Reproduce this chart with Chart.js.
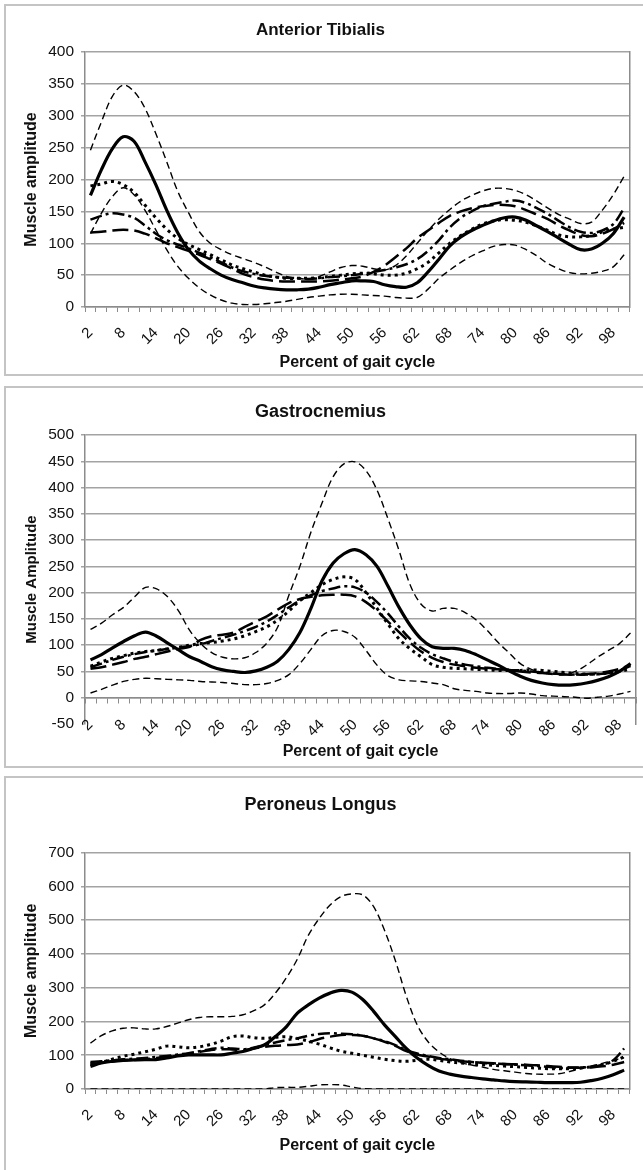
<!DOCTYPE html>
<html>
<head>
<meta charset="utf-8">
<script src="https://cdn.jsdelivr.net/npm/chart.js@4.4.1/dist/chart.umd.min.js"></script>
<style>
  html, body { margin:0; padding:0; background:#fff; }
  body { width:643px; height:1170px; overflow:hidden; position:relative; }
  .box { position:absolute; border:2px solid #c4c4c4; box-sizing:border-box; background:#fff; }
  canvas { position:absolute; }
</style>
</head>
<body>
<div class="box" style="left:4px;top:4px;width:660px;height:372px;"></div>
<div class="box" style="left:4px;top:386px;width:660px;height:382px;"></div>
<div class="box" style="left:4px;top:776px;width:660px;height:420px;"></div>
<canvas id="c1" width="644" height="370" style="left:5px;top:5px;"></canvas>
<canvas id="c2" width="644" height="380" style="left:5px;top:387px;"></canvas>
<canvas id="c3" width="644" height="390" style="left:5px;top:777px;"></canvas>
<script>
// ---------- categories & tick labels ----------
const gaitPercent = [2,4,6,8,10,12,14,16,18,20,22,24,26,28,30,32,34,36,38,40,42,44,46,48,50,52,54,56,58,60,62,64,66,68,70,72,74,76,78,80,82,84,86,88,90,92,94,96,98,100];
const labeledPercents = [2,8,14,20,26,32,38,44,50,56,62,68,74,80,86,92,98];

// ---------- Anterior Tibialis ----------
const atRange = [0, 400, 50];
const atMean     = [175,215,248,267,260,228,192,152,117,90,72,60,50,43,38,33,30,28,27,27,28,31,35,38,41,41,40,35,32,31,38,55,75,96,110,120,128,135,140,141,136,127,118,108,98,90,91,100,115,141];
const atUpper    = [246,290,330,348,338,312,272,228,182,148,118,100,90,82,76,70,63,55,48,45,44,48,55,62,65,64,60,58,65,80,100,120,138,153,166,175,182,186,186,183,176,166,155,145,138,131,133,152,176,205];
const atLower    = [115,147,173,187,176,152,121,90,64,45,30,19,11,6,4,4,5,7,9,12,15,17,19,20,20,19,18,17,15,14,15,28,45,58,70,80,88,95,98,97,90,80,68,60,54,52,53,56,63,82];
const atDotted   = [190,193,197,192,180,160,140,122,108,98,90,82,74,66,60,55,50,47,45,45,45,46,48,50,52,53,52,50,50,53,60,70,85,100,112,122,130,135,137,136,133,127,120,113,110,110,112,118,122,125];
const atDashDot  = [137,143,147,145,140,128,115,105,98,92,85,78,70,62,56,52,49,47,46,45,44,45,47,48,50,52,55,58,62,67,75,88,105,125,140,150,158,162,165,167,163,155,146,135,125,118,116,120,130,155];
const atLongDash = [117,118,120,121,120,115,108,100,94,88,82,75,68,60,52,47,43,41,40,40,40,40,41,43,45,48,55,65,78,92,108,120,132,143,150,155,158,160,160,158,152,145,138,128,120,113,111,115,122,132];

// ---------- Gastrocnemius ----------
const gaRange = [-50, 500, 50];
const gaMean     = [72,82,95,107,118,125,117,104,91,78,69,59,53,50,48,51,58,70,92,124,170,222,256,274,282,272,250,212,172,138,112,97,94,94,90,82,72,62,51,41,33,28,25,24,25,28,33,40,50,65];
const gaUpper    = [130,142,158,172,192,210,207,192,165,128,103,86,77,74,76,86,104,135,195,250,315,370,420,445,449,432,395,340,280,215,178,165,170,170,162,148,128,105,85,65,54,48,45,44,50,62,77,90,103,123];
const gaLower    = [9,16,24,31,35,37,36,35,34,33,31,30,29,27,25,25,27,33,44,65,92,118,128,126,115,90,62,42,34,32,31,28,25,17,14,12,9,8,8,9,7,4,3,2,1,-1,1,3,7,12];
const gaDotted   = [60,68,75,80,85,88,90,93,96,100,103,105,108,112,118,126,135,148,165,185,200,215,225,230,225,200,170,140,112,93,78,63,58,56,55,54,53,52,52,52,53,52,50,48,46,45,45,47,50,55];
const gaDashDot  = [58,65,72,78,83,87,90,93,96,98,102,108,114,120,127,135,145,158,172,185,195,203,208,212,210,200,182,160,135,112,95,83,75,68,63,60,57,55,53,52,50,48,46,45,44,44,45,47,52,60];
const gaLongDash = [55,58,63,68,74,78,83,88,93,97,110,117,120,124,135,145,155,168,180,188,192,195,196,196,193,182,165,145,125,105,88,76,68,63,60,57,55,54,53,50,48,47,45,44,44,45,47,50,55,62];

// ---------- Peroneus Longus ----------
const plRange = [0, 700, 100];
const plMean     = [67,77,82,85,86,87,87,92,98,101,101,101,101,106,111,121,131,156,185,225,249,269,284,292,287,265,230,190,155,120,92,70,53,44,38,34,30,27,24,22,21,20,19,19,19,20,25,32,42,56];
const plUpper    = [136,158,172,180,181,178,178,185,195,205,212,214,214,215,220,232,250,285,330,385,455,505,545,570,578,575,540,470,380,275,190,140,110,90,78,71,65,58,54,50,46,44,44,45,52,60,68,76,85,93];
const plLower    = [0,0,0,0,0,0,0,0,0,0,0,0,0,0,0,0,0,4,5,5,8,12,13,12,6,1,0,0,0,0,0,0,0,0,0,0,0,0,0,0,0,0,0,0,0,0,0,0,0,0];
const plDotted   = [75,80,88,97,103,110,118,127,125,122,125,132,142,155,157,152,150,153,155,150,142,133,122,112,106,100,94,88,84,82,85,88,85,80,77,74,72,70,68,66,64,62,60,60,60,62,66,72,82,95];
const plDashDot  = [80,82,85,88,90,92,95,98,102,106,112,118,122,120,118,122,130,138,145,150,158,163,165,164,162,158,150,142,130,115,105,98,92,88,84,80,77,75,74,72,70,68,66,62,63,64,66,72,85,120];
const plLongDash = [72,78,82,85,86,88,92,95,100,104,110,115,118,117,115,120,125,128,130,132,138,148,155,160,160,158,150,140,128,112,102,96,90,86,82,80,78,76,74,73,72,70,68,66,64,63,64,67,72,80];

// ---------- styles ----------
const FONT = "'Liberation Sans', Arial, sans-serif";
const GRID_GRAY = '#a3a3a3';
const AXIS_GRAY = '#8c8c8c';
const TEXT = '#111';
const lineStyles = {
  upper:    {borderWidth: 1.4, borderDash: [7, 4]},
  lower:    {borderWidth: 1.4, borderDash: [7, 4]},
  dotted:   {borderWidth: 3,   borderDash: [3, 4]},
  dashDot:  {borderWidth: 2.5, borderDash: [12, 4, 3, 4]},
  longDash: {borderWidth: 2.5, borderDash: [16, 6]},
  mean:     {borderWidth: 3.2, borderDash: []}
};

function ds(data, style) {
  return Object.assign({
    data: data, borderColor: '#000', backgroundColor: '#000',
    pointRadius: 0, fill: false, tension: 0.35, borderCapStyle: 'butt', borderJoinStyle: 'round'
  }, lineStyles[style]);
}

function makeChart(id, p) {
  const [ymin, ymax, ystep] = p.range;
  const lowLabels = ymin < 0;   // value axis goes below zero: category axis crosses at 0, labels stay low
  const xTicks = {
    autoSkip: false, maxRotation: 45, minRotation: 45, padding: p.xTickPad,
    font: { family: FONT, size: 15 }, color: TEXT,
    callback: function (v, i) { const lab = gaitPercent[i]; return labeledPercents.includes(lab) ? String(lab) : ''; }
  };
  const xTitle = { display: true, text: 'Percent of gait cycle', color: TEXT,
                   font: { family: FONT, size: 16, weight: 'bold' },
                   padding: { top: p.xTitlePadTop || 0, bottom: p.xTitlePad } };
  const scales = {
    y: {
      min: ymin, max: ymax,
      ticks: { stepSize: ystep, padding: 7, font: { family: FONT, size: 15.5 }, color: TEXT },
      grid: { color: function (c) { return (c.tick && c.tick.value < 0) ? 'rgba(0,0,0,0)' : GRID_GRAY; },
              lineWidth: 1.5, tickLength: 4, drawTicks: true },
      border: { color: AXIS_GRAY, width: 1.5 },
      title: { display: true, text: p.yTitle, color: TEXT,
               font: { family: FONT, size: p.yTitleSize, weight: 'bold' }, padding: { top: p.yTitlePad, bottom: 0 } },
      afterFit: function (s) { s.width = 80; }
    },
    yRight: {
      axis: 'y', position: 'right', min: ymin, max: ymax,
      grid: { drawOnChartArea: false, drawTicks: false },
      border: { color: AXIS_GRAY, width: 1.5 },
      ticks: { display: false },
      afterFit: function (s) { s.width = 0; }
    }
  };
  if (!lowLabels) {
    scales.x = {
      type: 'category', offset: true,
      grid: { drawOnChartArea: false, drawTicks: true, tickLength: 5, offset: true, color: AXIS_GRAY, lineWidth: 1 },
      border: { color: AXIS_GRAY, width: 1.5 },
      ticks: xTicks, title: xTitle,
      afterFit: function (s) { s.height = p.xAxisH; }
    };
  } else {
    scales.x = {
      axis: 'x', type: 'category', offset: true, position: { y: ymin },
      grid: { display: false, drawTicks: false },
      border: { display: false },
      ticks: xTicks, title: xTitle
    };
    scales.xZero = {
      axis: 'x', type: 'category', position: { y: 0 }, offset: true, labels: gaitPercent,
      grid: { drawOnChartArea: false, drawTicks: true, tickLength: 5, offset: true, color: AXIS_GRAY, lineWidth: 1 },
      border: { color: AXIS_GRAY, width: 1.5 },
      ticks: { display: false }
    };
  }
  return new Chart(document.getElementById(id), {
    type: 'line',
    data: {
      labels: gaitPercent,
      datasets: [
        ds(p.series.upper, 'upper'), ds(p.series.lower, 'lower'),
        ds(p.series.dotted, 'dotted'), ds(p.series.dashDot, 'dashDot'),
        ds(p.series.longDash, 'longDash'), ds(p.series.mean, 'mean')
      ]
    },
    options: {
      responsive: false, animation: false, devicePixelRatio: 1,
      layout: { padding: { left: 0, right: 13, top: 0, bottom: lowLabels ? p.xAxisH : 0 } },
      plugins: {
        legend: { display: false }, tooltip: { enabled: false },
        title: { display: true, text: p.title, color: TEXT,
                 font: { family: FONT, size: p.titleSize, weight: 'bold' },
                 padding: { top: p.titleTop, bottom: p.titleBottom } }
      },
      scales: scales
    }
  });
}

makeChart('c1', {
  title: 'Anterior Tibialis', titleSize: 17, titleTop: 14.8, titleBottom: 11.8,
  yTitle: 'Muscle amplitude', yTitleSize: 16, yTitlePad: 17.4, range: atRange,
  xAxisH: 68, xTickPad: 12, xTitlePad: 2.4,
  series: { mean: atMean, upper: atUpper, lower: atLower, dotted: atDotted, dashDot: atDashDot, longDash: atLongDash }
});
makeChart('c2', {
  title: 'Gastrocnemius', titleSize: 18, titleTop: 13.9, titleBottom: 12.5,
  yTitle: 'Muscle Amplitude', yTitleSize: 15, yTitlePad: 18, range: gaRange,
  xAxisH: 43, xTickPad: -8, xTitlePadTop: 9, xTitlePad: 0,
  series: { mean: gaMean, upper: gaUpper, lower: gaLower, dotted: gaDotted, dashDot: gaDashDot, longDash: gaLongDash }
});
makeChart('c3', {
  title: 'Peroneus Longus', titleSize: 18, titleTop: 16.9, titleBottom: 37.2,
  yTitle: 'Muscle amplitude', yTitleSize: 16, yTitlePad: 17.4, range: plRange,
  xAxisH: 78, xTickPad: 12, xTitlePad: 11.4,
  series: { mean: plMean, upper: plUpper, lower: plLower, dotted: plDotted, dashDot: plDashDot, longDash: plLongDash }
});
</script>
</body>
</html>
